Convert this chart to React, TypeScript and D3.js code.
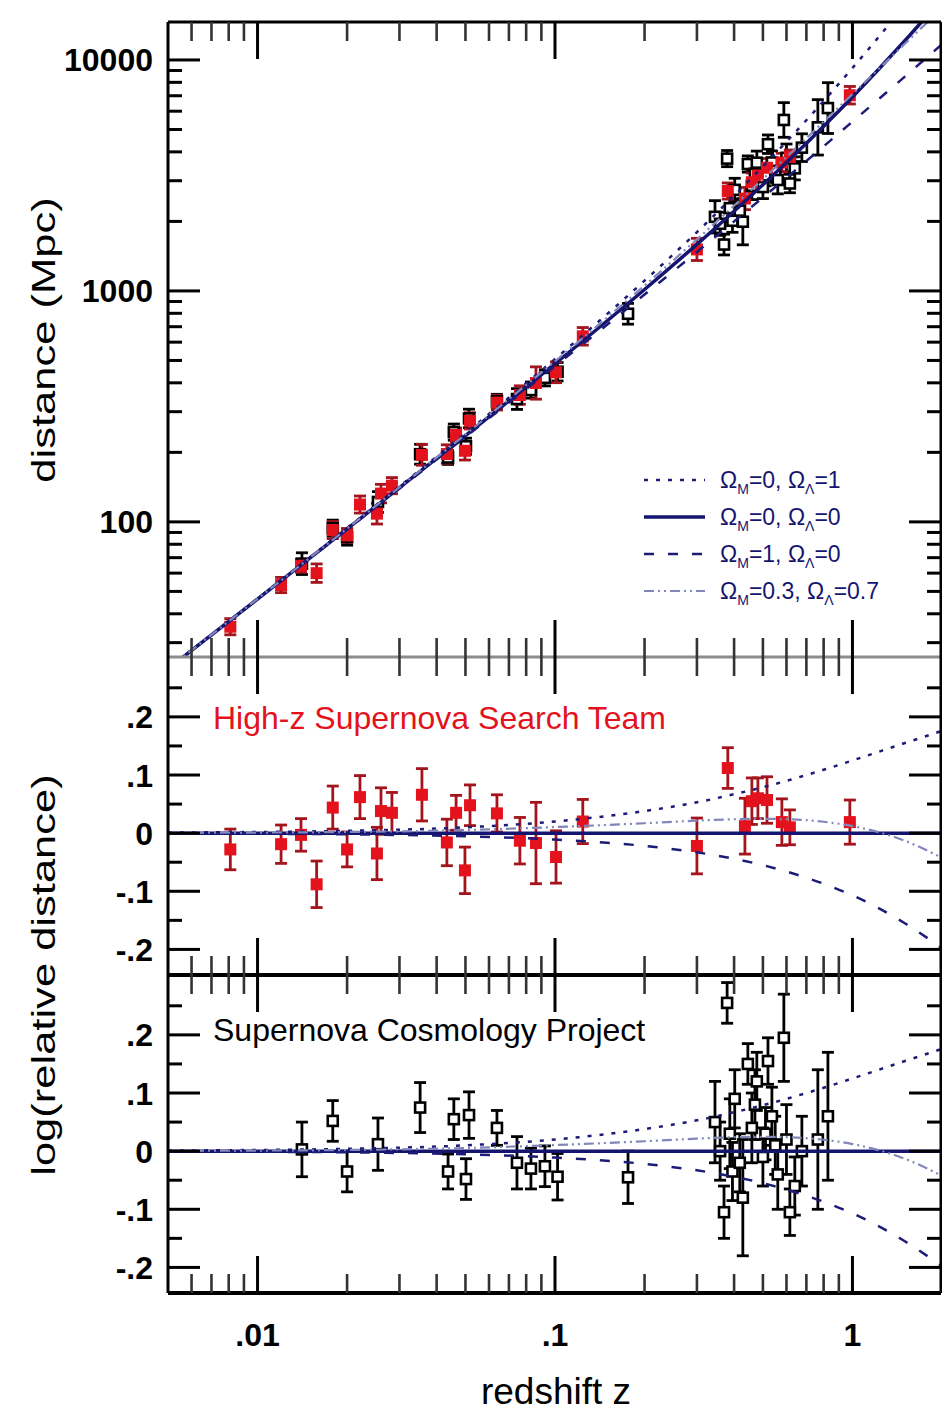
import React from "react";
import * as d3 from "d3";

// High-z Supernova Search Team: redshift, log(relative distance), 1-sigma error
const hzZ = [0.0081, 0.012, 0.014, 0.0158, 0.0179, 0.02, 0.0221, 0.0252, 0.026, 0.0283, 0.0357, 0.0433, 0.0465, 0.0498, 0.0518, 0.0638, 0.0762, 0.0863, 0.1008, 0.124, 0.3, 0.381, 0.435, 0.459, 0.481, 0.516, 0.579, 0.616, 0.98];
const hzLogRel = [-0.028, -0.019, -0.003, -0.088, 0.044, -0.028, 0.062, -0.035, 0.038, 0.035, 0.066, -0.016, 0.035, -0.064, 0.048, 0.034, -0.013, -0.017, -0.041, 0.02, -0.022, 0.112, 0.012, 0.055, 0.06, 0.057, 0.019, 0.01, 0.019];
const hzErr = [0.035, 0.033, 0.028, 0.04, 0.037, 0.03, 0.037, 0.045, 0.04, 0.035, 0.045, 0.04, 0.03, 0.04, 0.035, 0.032, 0.04, 0.07, 0.045, 0.038, 0.048, 0.035, 0.048, 0.04, 0.035, 0.04, 0.04, 0.03, 0.038];

// Supernova Cosmology Project
const scpZ = [0.0141, 0.0179, 0.02, 0.0254, 0.0352, 0.0437, 0.0457, 0.0502, 0.0514, 0.0638, 0.0745, 0.083, 0.0925, 0.102, 0.176,
  0.345, 0.359, 0.37, 0.379, 0.387, 0.395, 0.402, 0.418, 0.428, 0.445, 0.459, 0.47, 0.477, 0.5, 0.51, 0.52, 0.536, 0.55, 0.561, 0.588, 0.6, 0.616, 0.64, 0.676, 0.765, 0.827];
const scpLogRel = [0.003, 0.052, -0.035, 0.012, 0.075, -0.035, 0.055, -0.048, 0.062, 0.04, -0.02, -0.03, -0.026, -0.044, -0.045,
  0.05, 0.0, -0.105, 0.255, 0.03, -0.035, 0.09, -0.02, -0.08, 0.15, 0.04, 0.08, 0.12, -0.01, 0.03, 0.155, 0.06, 0.01, -0.04, 0.195, 0.02, -0.105, -0.06, 0.0, 0.02, 0.06];
const scpErr = [0.047, 0.035, 0.035, 0.045, 0.043, 0.03, 0.035, 0.035, 0.04, 0.03, 0.045, 0.035, 0.035, 0.04, 0.045,
  0.07, 0.05, 0.045, 0.035, 0.06, 0.05, 0.05, 0.05, 0.1, 0.035, 0.06, 0.06, 0.05, 0.05, 0.045, 0.04, 0.05, 0.05, 0.06, 0.075, 0.06, 0.04, 0.05, 0.06, 0.12, 0.11];

// model curves, log distance relative to the empty universe
const modelZ = [0.005, 0.01, 0.02, 0.05, 0.1, 0.2, 0.3, 0.4, 0.5, 0.6, 0.8, 1.0, 1.5, 2.0];
const lambdaOnly = [0.001, 0.002, 0.004, 0.010, 0.020, 0.038, 0.053, 0.067, 0.079, 0.090, 0.109, 0.125, 0.155, 0.176];
const emptyModel = [0, 0, 0, 0, 0, 0, 0, 0, 0, 0, 0, 0, 0, 0];
const matterOnly = [-0.0005, -0.001, -0.002, -0.0055, -0.011, -0.022, -0.033, -0.044, -0.055, -0.066, -0.087, -0.107, -0.155, -0.198];
const concordance = [0.0005, 0.001, 0.002, 0.0054, 0.0105, 0.017, 0.0215, 0.0239, 0.0246, 0.024, 0.0196, 0.0122, -0.0131, -0.0424];

const legendOm = ["0", "0", "1", "0.3"];
const legendOl = ["1", "0", "0", "0.7"];

const distTicks = ["100", "1000", "10000"];

// empty-universe luminosity distance (Mpc), the reference of the residual panels
const C_OVER_H0 = 4612;
const emptyDistance = (z: number) => C_OVER_H0 * z * (1 + z / 2);

const FONT = "'Liberation Sans', Arial, sans-serif";
const NAVY = "#15156f";
const RED = "#e3121c";

const modelStyles = [
  { vals: lambdaOnly, color: "#1c1c78", width: 2.5, dash: "4 8" },
  { vals: emptyModel, color: NAVY, width: 3.5, dash: undefined },
  { vals: matterOnly, color: "#1c1c78", width: 2.5, dash: "10 14" },
  { vals: concordance, color: "#8286bb", width: 2.2, dash: "10 4 2 4 2 4" },
];

const L = 168, R = 941;
const TOP = 22, MID = 657, LOW = 975, BOT = 1293;

// IDL style numbers: no leading zero, plain hyphen
function fmtNum(v: number) {
  if (Math.abs(v) < 1e-9) return "0";
  const s = String(+v.toFixed(3)).replace(/^(-?)0\./, "$1.");
  return s;
}

export default function App() {
  const x = d3.scaleLog().domain([0.005, 2]).range([L, 942]);
  const yD = d3.scaleLog().domain([26, 14600]).range([MID, TOP]);
  const yMid = d3.scaleLinear().domain([-0.244, 0.303]).range([LOW, MID]);
  const yBot = d3.scaleLinear().domain([-0.244, 0.303]).range([BOT, LOW]);

  const xTicks = x.ticks();
  const isMajor = (t: number) => Math.abs(Math.log10(t) - Math.round(Math.log10(t))) < 1e-6;

  const errBar = (cx: number, y1: number, y2: number, color: string, key: string) => (
    <g key={key} stroke={color} strokeWidth={2.8}>
      <line x1={cx} x2={cx} y1={y1} y2={y2} />
      <line x1={cx - 6} x2={cx + 6} y1={y1} y2={y1} />
      <line x1={cx - 6} x2={cx + 6} y1={y2} y2={y2} />
    </g>
  );

  const marker = (cx: number, cy: number, filled: boolean, key: string) =>
    filled
      ? <rect key={key} x={cx - 6} y={cy - 6} width={12} height={12} fill={RED} />
      : <rect key={key} x={cx - 5} y={cy - 5} width={10} height={10} fill="white" stroke="black" strokeWidth={2.6} />;

  // residual panel
  const residualPanel = (ys: d3.ScaleLinear<number, number>, zs: number[], vs: number[], es: number[], red: boolean, id: string) => {
    const line = (vals: number[]) =>
      d3.line<number>().x((_, i) => x(modelZ[i])).y((v) => ys(v)).curve(d3.curveMonotoneX)(vals) || "";
    return (
      <g clipPath={`url(#${id})`}>
        {zs.map((z, i) => errBar(x(z), ys(vs[i] + es[i]), ys(vs[i] - es[i]), red ? "#a3141c" : "black", "e" + i))}
        {zs.map((z, i) => marker(x(z), ys(vs[i]), red, "m" + i))}
        {modelStyles.map((m, i) => (
          <path key={"l" + i} d={line(m.vals)} fill="none" stroke={m.color} strokeWidth={m.width} strokeDasharray={m.dash} />
        ))}
      </g>
    );
  };

  const topLine = (vals: number[]) =>
    d3.line<number>().x((_, i) => x(modelZ[i])).y((v, i) => yD(emptyDistance(modelZ[i]) * Math.pow(10, v))).curve(d3.curveMonotoneX)(vals) || "";

  const topPoints = (zs: number[], vs: number[], es: number[], red: boolean, p: string) => {
    const bars = zs.map((z, i) => {
      const d = emptyDistance(z) * Math.pow(10, vs[i]);
      return errBar(x(z), yD(d * Math.pow(10, es[i])), yD(d / Math.pow(10, es[i])), red ? "#a3141c" : "black", p + "e" + i);
    });
    const marks = zs.map((z, i) => marker(x(z), yD(emptyDistance(z) * Math.pow(10, vs[i])), red, p + "m" + i));
    return [bars, marks];
  };

  const [scpBars, scpMarks] = topPoints(scpZ, scpLogRel, scpErr, false, "s");
  const [hzBars, hzMarks] = topPoints(hzZ, hzLogRel, hzErr, true, "h");

  // x ticks along a horizontal axis line
  const xTickMarks = (y0: number, mode: "down" | "up" | "both", key: string) =>
    xTicks.filter((t) => x(t) > L + 2 && x(t) < 940).map((t, i) => {
      const major = isMajor(t);
      const len = major ? 37 : 19;
      const y1 = mode === "down" ? y0 : y0 - len;
      const y2 = mode === "up" ? y0 : y0 + len;
      return <line key={key + i} x1={x(t)} x2={x(t)} y1={y1} y2={y2} stroke={major ? "black" : "#333"} strokeWidth={major ? 3 : 2.6} />;
    });

  const relTicks = yMid.ticks(10).filter((t) => t <= 0.26 && t >= -0.26);
  const relMajor = (t: number) => Math.abs(t * 10 - Math.round(t * 10)) < 1e-6;
  const yTickMarks = (ys: (v: number) => number, vals: number[], isMaj: (v: number) => boolean, key: string) =>
    vals.map((t, i) => {
      const len = isMaj(t) ? 32 : 14;
      return (
        <g key={key + i} stroke="black" strokeWidth={3}>
          <line x1={L} x2={L + len} y1={ys(t)} y2={ys(t)} />
          <line x1={R - len} x2={R} y1={ys(t)} y2={ys(t)} />
        </g>
      );
    });

  const distTickVals = yD.ticks().filter((t) => t >= 27 && t <= 14000);

  const tickLabel = { fontFamily: FONT, fontSize: 32, fontWeight: "bold", fill: "black" } as const;

  return (
    <svg width={942} height={1417} style={{ position: "absolute", left: 0, top: 0, background: "white" }}>
      <defs>
        <clipPath id="cTop"><rect x={L} y={TOP} width={R - L} height={MID - TOP} /></clipPath>
        <clipPath id="cMid"><rect x={L} y={MID} width={R - L} height={LOW - MID} /></clipPath>
        <clipPath id="cBot"><rect x={L} y={LOW} width={R - L} height={BOT - LOW} /></clipPath>
      </defs>
      <rect x={0} y={0} width={942} height={1417} fill="white" />

      {/* top panel: distance vs redshift */}
      <g clipPath="url(#cTop)">
        {scpBars}
        {hzBars}
        {scpMarks}
        {hzMarks}
        {modelStyles.map((m, i) => (
          <path key={"t" + i} d={topLine(m.vals)} fill="none" stroke={m.color} strokeWidth={m.width} strokeDasharray={m.dash} />
        ))}
      </g>

      {residualPanel(yMid, hzZ, hzLogRel, hzErr, true, "cMid")}
      {residualPanel(yBot, scpZ, scpLogRel, scpErr, false, "cBot")}

      {/* legend */}
      {modelStyles.map((m, i) => {
        const ly = 480 + i * 37;
        return (
          <g key={"lg" + i}>
            <line x1={644} x2={705} y1={ly} y2={ly} stroke={m.color} strokeWidth={m.width} strokeDasharray={m.dash} />
            <text x={720} y={ly + 8} fontFamily={FONT} fontSize={23} fill={NAVY}>
              Ω<tspan dy={6} fontSize={14}>M</tspan>
              <tspan dy={-6}>{"=" + legendOm[i] + ", Ω"}</tspan>
              <tspan dy={6} fontSize={14}>Λ</tspan>
              <tspan dy={-6}>{"=" + legendOl[i]}</tspan>
            </text>
          </g>
        );
      })}

      {/* panel titles */}
      <text x={213} y={729} fontFamily={FONT} fontSize={32} fill={RED}>High-z Supernova Search Team</text>
      <text x={213} y={1041} fontFamily={FONT} fontSize={32} fill="black">Supernova Cosmology Project</text>

      {/* frame and separators */}
      <line x1={L} x2={R} y1={MID} y2={MID} stroke="#8c8c8c" strokeWidth={3} />
      <line x1={L} x2={R} y1={LOW} y2={LOW} stroke="black" strokeWidth={4} />
      <line x1={L} x2={R} y1={TOP} y2={TOP} stroke="black" strokeWidth={3} />
      <line x1={L} x2={R} y1={BOT} y2={BOT} stroke="black" strokeWidth={4} />
      <line x1={L} x2={L} y1={TOP} y2={BOT} stroke="black" strokeWidth={3} />
      <line x1={R} x2={R} y1={TOP} y2={BOT} stroke="black" strokeWidth={3} />

      {xTickMarks(TOP, "down", "xt")}
      {xTickMarks(MID, "both", "xm")}
      {xTickMarks(LOW, "both", "xl")}
      {xTickMarks(BOT, "up", "xb")}

      {yTickMarks(yD, distTickVals, isMajor, "yd")}
      {yTickMarks(yMid, relTicks, relMajor, "ym")}
      {yTickMarks(yBot, relTicks, relMajor, "yb")}

      {/* tick labels */}
      {distTicks.map((t) => (
        <text key={"dl" + t} x={153} y={yD(+t)} dy="0.36em" textAnchor="end" {...tickLabel}>{t}</text>
      ))}
      {relTicks.filter(relMajor).map((t) => (
        <g key={"rl" + t}>
          <text x={153} y={yMid(t)} dy="0.36em" textAnchor="end" {...tickLabel}>{fmtNum(t)}</text>
          <text x={153} y={yBot(t)} dy="0.36em" textAnchor="end" {...tickLabel}>{fmtNum(t)}</text>
        </g>
      ))}
      {xTicks.filter(isMajor).map((t) => (
        <text key={"xl" + t} x={x(t)} y={1346} textAnchor="middle" {...tickLabel}>{fmtNum(t)}</text>
      ))}

      {/* axis titles */}
      <text x={556} y={1404} textAnchor="middle" fontFamily={FONT} fontSize={37}>redshift z</text>
      <text transform="translate(55,340) rotate(-90) scale(1.28,1)" textAnchor="middle" fontFamily={FONT} fontSize={34}>distance (Mpc)</text>
      <text transform="translate(55,975) rotate(-90) scale(1.28,1)" textAnchor="middle" fontFamily={FONT} fontSize={34}>log(relative distance)</text>
    </svg>
  );
}
